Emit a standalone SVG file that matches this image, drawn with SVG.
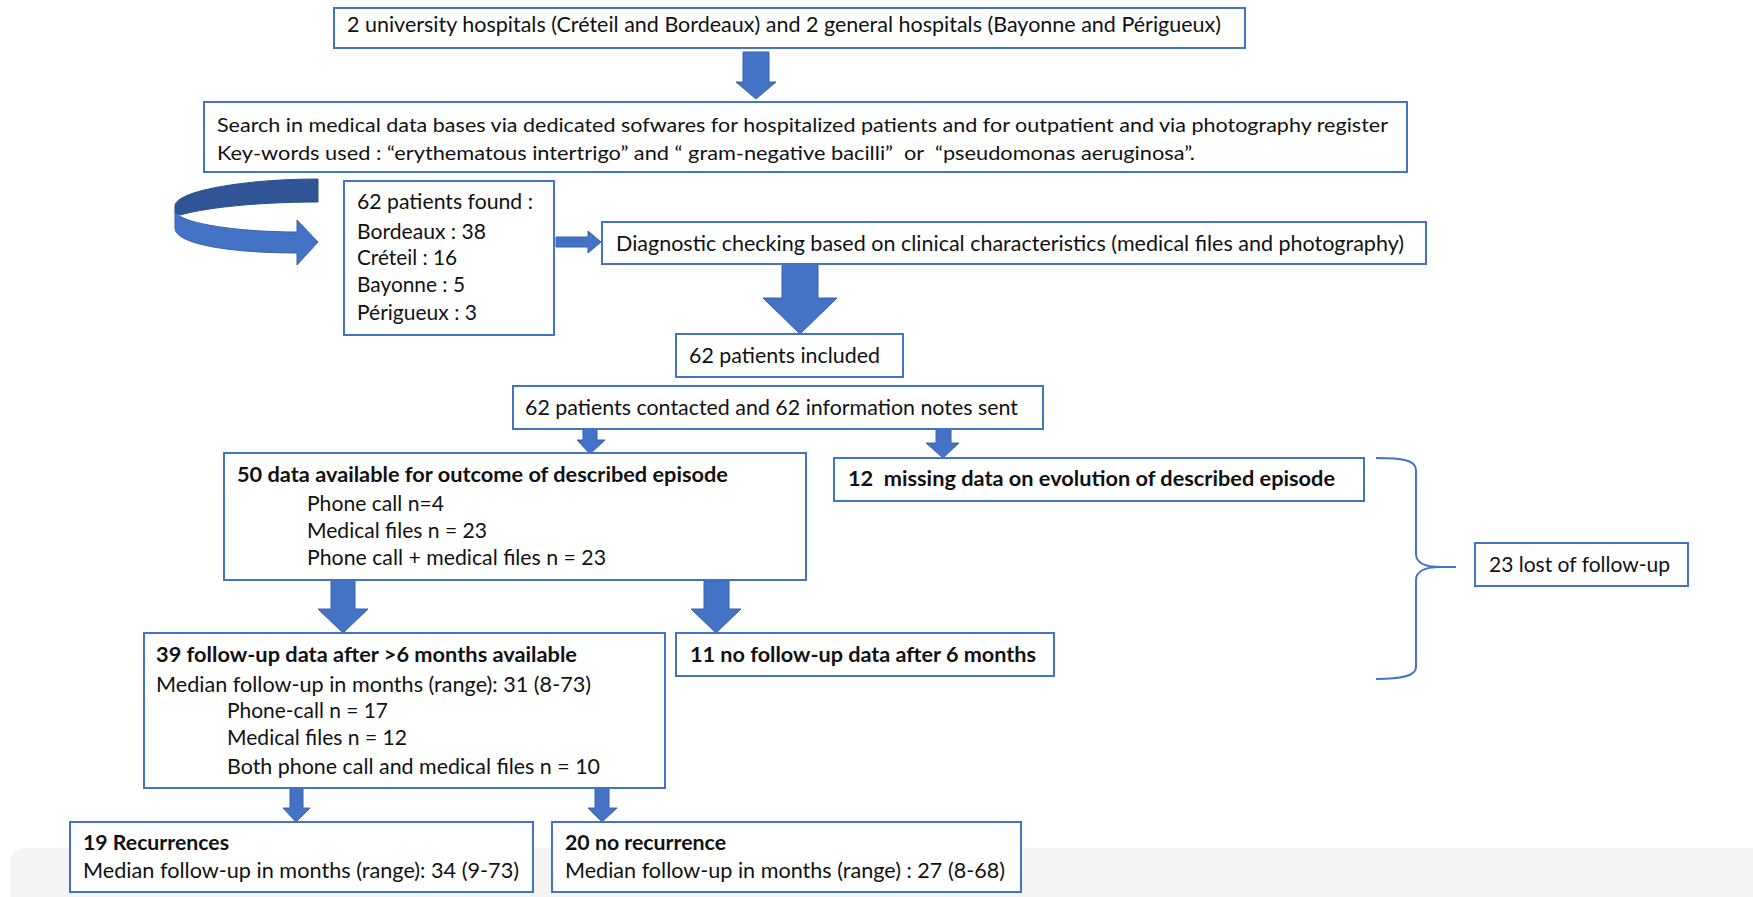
<svg xmlns="http://www.w3.org/2000/svg" width="1753" height="897" viewBox="0 0 1753 897">
<style>
.box{fill:#fff;stroke:#4472C4;stroke-width:2}
.t{font-family:Lato,"Liberation Sans",Arial,sans-serif;font-size:21px;fill:#111}
.b{font-weight:700}
.arr{fill:#4472C4;stroke:#3A63AD;stroke-width:1}
.br{fill:none;stroke:#4472C4;stroke-width:2}
</style>
<rect x="10" y="848" width="1760" height="70" rx="14" fill="#f4f4f4"/>
<g id="connectors">
<polygon class="arr" points="743,52 769,52 769,82 776,82 756,99 736,82 743,82"/>
<polygon class="arr" points="556,237 588,237 588,231 601,242 588,253 588,247 556,247"/>
<polygon class="arr" points="782,264 818,264 818,298 837,298 800,334 763,298 782,298"/>
<polygon class="arr" points="583,429 597,429 597,440 605,440 590,454 577,440 583,440"/>
<polygon class="arr" points="936,429 951,429 951,443 959,443 943,458 926,443 936,443"/>
<polygon class="arr" points="331,580 355,580 355,609 368,609 343,633 318,609 331,609"/>
<polygon class="arr" points="704,581 729,581 729,609 741,609 716,633 691,609 704,609"/>
<polygon class="arr" points="290,788 303,788 303,808 310,808 296,822 283,808 290,808"/>
<polygon class="arr" points="595,788 609,788 609,808 617,808 602,822 588,808 595,808"/>
<path d="M318,179 C245,179 175,191 175,206 L175,213 L180,215 C200,209 250,202 318,202 Z" fill="#2F5597" stroke="#2A4D8A" stroke-width="1"/>
<path d="M175,212 C182,224 240,232 297,232 L297,220 L318,242 L297,265 L297,253 C235,253 175,245 175,228 Z" fill="#4472C4" stroke="#3A63AD" stroke-width="1"/>
<path class="br" d="M1376,458 C1402,458 1416,460 1416,470 L1416,554 C1416,563 1426,567 1440,567 L1456,567 M1440,567 C1426,567 1416,571 1416,580 L1416,667 C1416,676 1402,679 1376,679"/>
</g>
<g id="n-top"><rect class="box" x="334" y="8" width="911" height="40"/>
<text class="t" x="347" y="32" textLength="874" lengthAdjust="spacingAndGlyphs">2 university hospitals (Créteil and Bordeaux) and 2 general hospitals (Bayonne and Périgueux)</text></g>
<g id="n-search"><rect class="box" x="204" y="102" width="1203" height="70"/>
<text class="t" x="217" y="132" textLength="1171" lengthAdjust="spacingAndGlyphs" style="font-size:20px">Search in medical data bases via dedicated sofwares for hospitalized patients and for outpatient and via photography register</text>
<text class="t" x="217" y="160" textLength="978" lengthAdjust="spacingAndGlyphs" style="font-size:20px" xml:space="preserve">Key-words used : “erythematous intertrigo” and “ gram-negative bacilli”  or  “pseudomonas aeruginosa”.</text></g>
<g id="n-found"><rect class="box" x="344" y="181" width="210" height="154"/>
<text class="t" x="357" y="209" textLength="176" lengthAdjust="spacingAndGlyphs">62 patients found :</text>
<text class="t" x="357" y="239" textLength="129" lengthAdjust="spacingAndGlyphs">Bordeaux : 38</text>
<text class="t" x="357" y="265" textLength="100" lengthAdjust="spacingAndGlyphs">Créteil : 16</text>
<text class="t" x="357" y="292" textLength="108" lengthAdjust="spacingAndGlyphs">Bayonne : 5</text>
<text class="t" x="357" y="320" textLength="120" lengthAdjust="spacingAndGlyphs">Périgueux : 3</text></g>
<g id="n-diag"><rect class="box" x="602" y="222" width="824" height="42"/>
<text class="t" x="616" y="251" textLength="788" lengthAdjust="spacingAndGlyphs">Diagnostic checking based on clinical characteristics (medical files and photography)</text></g>
<g id="n-included"><rect class="box" x="676" y="334" width="227" height="43"/>
<text class="t" x="689" y="363" textLength="191" lengthAdjust="spacingAndGlyphs">62 patients included</text></g>
<g id="n-contacted"><rect class="box" x="513" y="386" width="530" height="43"/>
<text class="t" x="525" y="415" textLength="493" lengthAdjust="spacingAndGlyphs">62 patients contacted and 62 information notes sent</text></g>
<g id="n-50"><rect class="box" x="224" y="453" width="582" height="127"/>
<text class="t b" x="237" y="482" textLength="491" lengthAdjust="spacingAndGlyphs">50 data available for outcome of described episode</text>
<text class="t" x="307" y="511" textLength="137" lengthAdjust="spacingAndGlyphs">Phone call n=4</text>
<text class="t" x="307" y="538" textLength="180" lengthAdjust="spacingAndGlyphs">Medical files n = 23</text>
<text class="t" x="307" y="565" textLength="299" lengthAdjust="spacingAndGlyphs">Phone call + medical files n = 23</text></g>
<g id="n-12"><rect class="box" x="834" y="458" width="530" height="43"/>
<text class="t b" x="848" y="486" textLength="487" lengthAdjust="spacingAndGlyphs" xml:space="preserve">12  missing data on evolution of described episode</text></g>
<g id="n-23"><rect class="box" x="1475" y="543" width="213" height="43"/>
<text class="t" x="1489" y="572" textLength="181" lengthAdjust="spacingAndGlyphs">23 lost of follow-up</text></g>
<g id="n-39"><rect class="box" x="144" y="633" width="521" height="155"/>
<text class="t b" x="156" y="662" textLength="421" lengthAdjust="spacingAndGlyphs">39 follow-up data after &gt;6 months available</text>
<text class="t" x="156" y="692" textLength="435" lengthAdjust="spacingAndGlyphs">Median follow-up in months (range): 31 (8-73)</text>
<text class="t" x="227" y="718" textLength="161" lengthAdjust="spacingAndGlyphs">Phone-call n = 17</text>
<text class="t" x="227" y="745" textLength="180" lengthAdjust="spacingAndGlyphs">Medical files n = 12</text>
<text class="t" x="227" y="774" textLength="373" lengthAdjust="spacingAndGlyphs">Both phone call and medical files n = 10</text></g>
<g id="n-11"><rect class="box" x="676" y="633" width="378" height="43"/>
<text class="t b" x="690" y="662" textLength="346" lengthAdjust="spacingAndGlyphs">11 no follow-up data after 6 months</text></g>
<g id="n-19"><rect class="box" x="70" y="822" width="463" height="70"/>
<text class="t b" x="83" y="850" textLength="146" lengthAdjust="spacingAndGlyphs">19 Recurrences</text>
<text class="t" x="83" y="878" textLength="436" lengthAdjust="spacingAndGlyphs">Median follow-up in months (range): 34 (9-73)</text></g>
<g id="n-20"><rect class="box" x="552" y="822" width="469" height="70"/>
<text class="t b" x="565" y="850" textLength="161" lengthAdjust="spacingAndGlyphs">20 no recurrence</text>
<text class="t" x="565" y="878" textLength="440" lengthAdjust="spacingAndGlyphs">Median follow-up in months (range) : 27 (8-68)</text></g>
</svg>
